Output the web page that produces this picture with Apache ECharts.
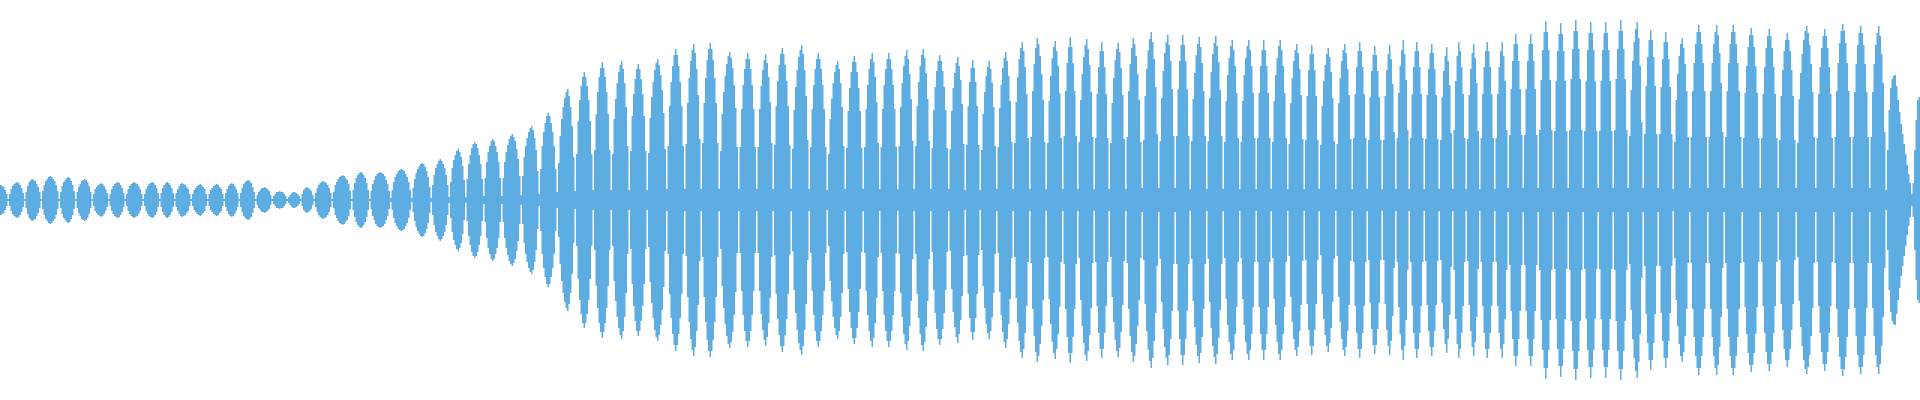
<!DOCTYPE html>
<html>
<head>
<meta charset="utf-8">
<script src="https://cdn.jsdelivr.net/npm/echarts@6/dist/echarts.min.js"></script>
<style>
	html, body { margin: 0; padding: 0; background: #fff; }
	#wave { width: 1920px; height: 400px; }
</style>
</head>
<body>
<div id="wave"></div>
<script>
// amplitude of each sample (drawn mirrored around 0)
var waveStart = [
	15,14,13,10,6,
	1,6,11,14,16,17,18,17,15,12,7,
	1,8,14,18,20,21,20,19,16,13,8,
	1,9,15,19,21,23,24,23,21,19,15,9,
	1,8,14,18,20,22,23,22,19,15,9,
	1,8,13,16,19,20,21,20,18,14,8,
	1,6,11,13,15,16,17,16,14,11,7,
	1,6,11,14,16,17,18,17,15,12,7,
	1,6,11,14,16,17,18,17,16,14,11,6,
	1,6,11,14,16,17,18,17,15,12,7,
	1,7,12,15,17,18,17,15,12,7,
	1,7,11,14,16,17,16,15,13,11,6,
	1,6,10,12,14,15,16,15,13,11,6,
	1,6,10,12,14,15,16,15,13,11,6,
	1,7,11,14,16,17,16,14,11,7,
	1,7,12,16,18,19,20,19,17,13,8,
	1,5,8,10,12,12,13,12,11,9,5,
	1,4,6,8,8,9,8,8,6,4,
	1,3,5,7,8,8,7,6,4,
	1,6,10,12,13,12,11,9,5,
	1,7,12,15,17,18,19,18,17,15,12,7,
	1,8,15,18,21,23,24,25,24,22,20,16,9,
	1,10,17,22,25,27,28,27,25,22,17,10,
	1,9,16,20,24,26,27,28,27,26,24,20,16,9,
	2,10,18,23,26,29,30,31,30,29,26,23,18,10,
	2,12,21,27,31,34,36,37,36,33,29,23,13,
	2,15,25,32,36,39,41,39,36,32,25,15,
	3,18,32,40,45,49,51,48,43,34,20,
	3,21,36,45,52,56,58,56,52,45,36,21
];
var waveRise = [
	4,22,38,48,54,59,61,59,54,48,38,22,
	4,22,38,48,55,61,64,66,63,59,51,41,24,
	5,24,43,54,62,68,72,74,70,62,50,29,
	6,31,54,68,77,84,87,84,77,68,54,31,
	8,37,64,81,93,102,108,111,104,93,74,43,
	9,46,79,100,114,123,128,123,114,100,79,46,
	10,50,86,108,123,132,138,132,123,108,86,50,
	10,46,81,101,117,128,135,139,131,117,93,54,
	10,49,84,106,121,131,136,131,121,106,84,49,
	10,47,82,103,118,130,137,141,135,125,110,87,51,
	11,54,94,118,134,145,151,145,134,118,94,54,
	11,56,97,122,139,150,156,147,131,105,61,
	11,57,97,122,140,151,157,151,140,122,97,57,
	11,49,86,108,124,136,144,148,142,132,115,92,53,
	11,53,91,115,131,141,147,141,131,115,91,53,
	11,53,91,114,130,140,146,137,123,98,57,
	11,55,94,119,135,146,152,146,135,119,94,55,
	11,51,90,113,130,143,150,155,146,130,104,60,
	11,53,91,115,131,141,147,141,131,115,91,53,
	10,46,81,101,117,128,135,139,131,117,93,54,
	11,52,89,112,128,138,144,138,128,112,89,52,
	11,53,91,115,131,141,147,138,123,98,57,
	11,53,91,115,131,141,147,141,131,115,91,53,
	11,54,93,117,134,144,150,141,126,101,59,
	11,54,94,118,134,145,151,142,127,101,59,
	11,52,90,113,129,139,145,139,129,113,90,52,
	11,51,89,112,127,137,143,134,120,96,56
];
var waveMiddle = [
	10,55,94,118,132,140,132,118,94,55,
	10,50,86,108,124,133,139,131,117,93,54,
	11,53,92,115,132,142,148,139,124,99,58,
	11,57,98,123,141,152,158,149,133,106,62,
	11,63,109,136,152,162,156,144,126,100,58,
	11,57,99,124,142,153,159,149,134,107,62,
	11,64,109,137,153,163,153,137,109,64,
	11,58,100,126,143,155,161,151,135,108,63,
	11,62,106,133,149,158,149,133,106,62,
	11,57,97,122,140,151,157,148,132,105,61,
	11,63,109,136,152,162,156,144,126,100,58,
	12,60,104,131,150,161,168,158,141,113,66,
	12,59,102,129,147,158,165,155,139,111,64,
	12,64,111,139,155,165,155,139,111,64,
	11,59,101,127,145,156,163,153,137,109,64,
	11,59,102,128,146,157,164,154,138,110,64,
	11,58,99,125,142,154,160,150,134,107,62,
	11,58,99,125,142,154,160,150,134,107,62,
	11,62,107,134,150,160,150,134,107,62,
	11,58,99,125,142,154,160,150,134,107,62,
	11,56,97,122,139,150,156,147,131,105,61,
	11,60,104,130,146,155,146,130,104,60,
	11,55,94,119,135,146,152,143,128,102,59,
	11,56,97,122,139,150,156,147,131,105,61,
	11,62,106,133,149,158,149,133,106,62,
	11,60,103,129,145,154,145,129,103,60,
	11,60,104,130,146,155,141,116,68,
	11,62,107,134,150,160,146,120,70,
	11,62,106,133,149,158,149,133,106,62,
	11,61,105,131,147,156,147,131,105,61,
	11,60,103,129,144,153,139,115,67
];
var waveEnd = [
	11,70,119,144,158,149,133,106,62,
	11,61,105,131,147,156,142,117,69,
	11,62,106,133,149,158,149,133,106,62,
	11,62,106,133,149,158,144,119,70,
	12,65,111,139,156,166,156,139,111,65,
	12,65,111,139,156,166,156,139,111,65,
	12,70,120,150,168,179,168,150,120,70,
	12,69,119,149,166,177,166,149,119,69,
	12,70,121,151,169,180,169,151,121,70,
	12,69,119,150,167,178,167,150,119,69,
	12,69,119,150,167,178,167,150,119,69,
	12,70,121,151,169,180,169,151,121,70,
	12,64,110,139,158,171,178,162,134,78,
	12,66,114,143,160,170,160,143,114,66,
	12,66,113,141,158,168,158,141,113,66,
	11,58,100,126,144,156,162,152,136,109,63,
	12,63,109,137,156,168,175,168,156,137,109,63,
	12,63,109,137,156,168,175,165,147,117,68,
	12,63,109,137,156,168,175,168,156,137,109,63,
	12,62,107,134,153,165,172,165,153,134,107,62,
	12,62,106,133,152,164,171,164,152,133,106,62,
	12,60,104,130,149,160,167,160,149,130,104,60,
	12,57,101,127,146,160,169,174,167,155,136,108,63,
	12,62,106,133,152,164,171,164,152,133,106,62,
	12,63,109,137,157,169,176,169,157,137,109,63,
	12,63,108,136,155,167,174,167,155,136,108,63,
	12,63,108,136,155,167,174,164,146,117,68,
	10,50,90,112,121,124,125,114,100,88,76,66,56,46,35,26,17,6,
	17,50,80,100,103
];

var amp = waveStart.concat(waveRise, waveMiddle, waveEnd);
var samples = amp.map(function (v, i) { return i; });
var upper = amp;
var lower = amp.map(function (v) { return -v; });

// drawn at 2x so the 1.5px bars land on whole device pixels (no seams)
var myChart = echarts.init(document.getElementById('wave'), null, { devicePixelRatio: 2 });
var color = '#5dade2';
var option = {
	animation: false,
	grid: { left: 0, right: 0, top: 0, bottom: 0 },
	xAxis: {
		type: 'category',
		data: samples,
		show: false
	},
	yAxis: {
		type: 'value',
		min: -200,
		max: 200,
		show: false
	},
	series: [{
		type: 'bar',
		stack: 'wave',
		data: upper,
		barCategoryGap: 0,
		itemStyle: { color: color }
	}, {
		type: 'bar',
		stack: 'wave',
		data: lower,
		barCategoryGap: 0,
		itemStyle: { color: color }
	}]
};
myChart.setOption(option);
</script>
</body>
</html>
